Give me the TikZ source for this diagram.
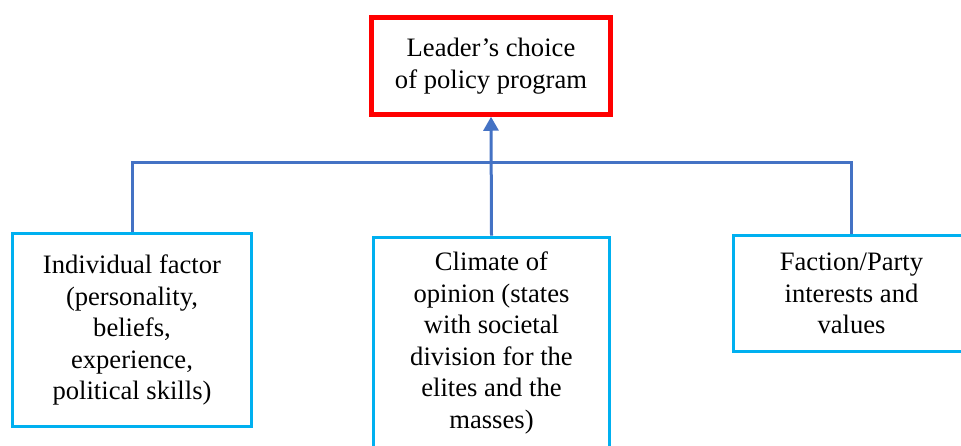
\documentclass[tikz,border=0pt]{standalone}
\usepackage{fontspec}
\setmainfont{Liberation Serif}
\usetikzlibrary{arrows.meta}

\definecolor{leaderred}{RGB}{255,0,0}
\definecolor{factorcyan}{RGB}{0,176,240}
\definecolor{linkblue}{RGB}{68,114,196}

\begin{document}
\begin{tikzpicture}[x=1pt,y=1pt,
      every node/.style={font=\fontsize{26.6pt}{31.5pt}\selectfont,align=center},
      leader/.style={draw=leaderred,line width=4.5pt,minimum width=239pt,minimum height=97pt},
      factor/.style={draw=factorcyan,line width=3pt,minimum width=236pt},
      link/.style={linkblue,line width=3pt}]
            \clip (0,0) rectangle (961,-445);

            \node [leader] (choice) at (491,-66)
               {Leader’s choice\\of policy program};

            \node [factor,minimum width=239pt,minimum height=193pt] (individual) at (132,-330)
               {Individual factor\\(personality,\\beliefs,\\experience,\\political skills)};
            % box runs past the bottom edge
            \node [factor,anchor=north,inner ysep=15pt,text depth=240pt] (climate) at (491.5,-235.5)
               {Climate of\\opinion (states\\with societal\\division for the\\elites and the\\masses)};
            \node [factor,minimum height=116pt] (faction) at (851.5,-293.5)
               {Faction/Party\\interests and\\values};

            \coordinate (bus) at (491.5,-162);

            \draw [link] 
               (individual.north) |- (bus) -| (faction.north);
            \draw [link,-{Triangle[length=14pt,width=15pt]}] 
               (climate.north) -- (choice.south);
         \end{tikzpicture}
\end{document}
